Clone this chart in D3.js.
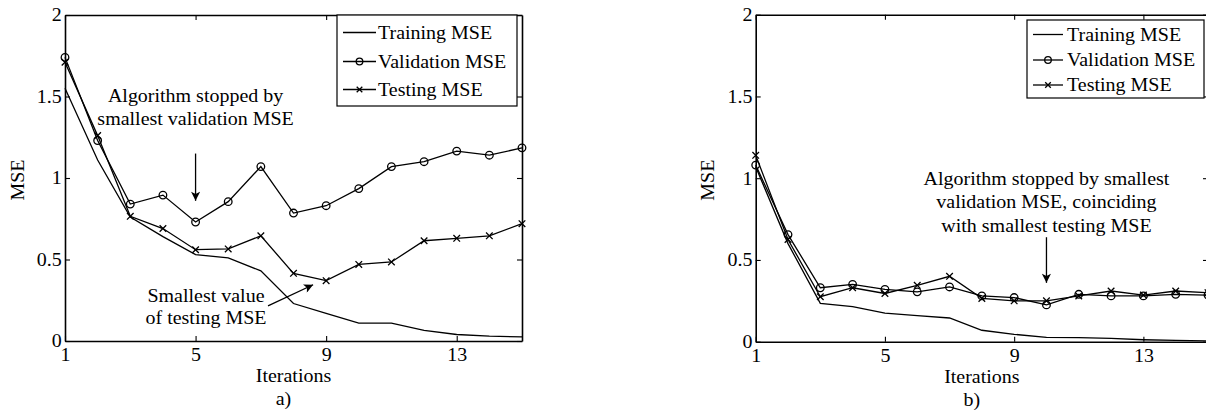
<!DOCTYPE html>
<html><head><meta charset="utf-8">
<script src="https://cdn.jsdelivr.net/npm/d3@7"></script>
<style>
body{margin:0;background:#fff;}
svg{display:block;}
text{font-family:"Liberation Serif","Times New Roman",serif;fill:#000;}
</style></head>
<body>
<svg id="c" width="1206" height="410"></svg>
<script>
// ---------- data ----------
const iterations = [1,2,3,4,5,6,7,8,9,10,11,12,13,14,15];
const xTicks = [1,5,9,13];
const yTicks = [0,0.5,1,1.5,2];
const yTickLabels = ["0","0.5","1","1.5","2"];
const seriesNames = ["Training MSE","Validation MSE","Testing MSE"];

const trainA = [1.55,1.11,0.76,0.64,0.53,0.51,0.43,0.23,0.17,0.11,0.11,0.065,0.04,0.03,0.025];
const valA   = [1.74,1.23,0.84,0.895,0.73,0.855,1.07,0.785,0.83,0.935,1.07,1.10,1.165,1.14,1.185];
const testA  = [1.71,1.26,0.765,0.69,0.56,0.565,0.645,0.415,0.37,0.47,0.485,0.615,0.63,0.645,0.72];

const trainB = [1.07,0.60,0.235,0.215,0.175,0.16,0.145,0.07,0.045,0.027,0.025,0.02,0.012,0.008,0.005];
const valB   = [1.08,0.655,0.33,0.35,0.32,0.305,0.335,0.28,0.27,0.225,0.29,0.28,0.28,0.29,0.285];
const testB  = [1.14,0.625,0.275,0.33,0.295,0.345,0.40,0.265,0.25,0.25,0.28,0.31,0.285,0.31,0.30];

const annotA1 = ["Algorithm stopped by","smallest validation MSE"];
const annotA2 = ["Smallest value","of testing MSE"];
const annotB1 = ["Algorithm stopped by smallest","validation MSE, coinciding","with smallest testing MSE"];

// ---------- drawing ----------
const svg = d3.select("#c");
const FS = 18.5, SX = 1.08, LW = 1.3;

svg.append("defs").append("marker")
  .attr("id","ah").attr("viewBox","0 0 10 10").attr("refX",10).attr("refY",5)
  .attr("markerWidth",10).attr("markerHeight",9).attr("markerUnits","userSpaceOnUse")
  .attr("orient","auto")
  .append("path").attr("d","M0,0 L10,5 L0,10 L2.5,5 Z").attr("fill","#000");

function txt(g, x, y, s, anchor, rot){
  return g.append("text")
    .attr("transform",`translate(${x},${y})` + (rot?` rotate(${rot})`:"") + ` scale(${SX},1)`)
    .attr("text-anchor",anchor||"middle")
    .attr("font-size",FS)
    .text(s);
}

function panel(cfg){
  const g = svg.append("g");
  const x = d3.scaleLinear().domain([1,15]).range([cfg.left,cfg.right]);
  const y = d3.scaleLinear().domain([0,2]).range([cfg.bottom,cfg.top]);

  const styleAxis = sel => {
    sel.select(".domain").attr("stroke","#000").attr("stroke-width",1.6);
    sel.selectAll(".tick line").attr("stroke","#000").attr("stroke-width",1.1);
    sel.selectAll("text").attr("font-family","Liberation Serif, Times New Roman, serif")
      .attr("font-size",FS).attr("fill","#000");
  };
  const gb = g.append("g").attr("transform",`translate(0,${cfg.bottom})`)
    .call(d3.axisBottom(x).tickValues(xTicks).tickFormat(d3.format("d")).tickSizeInner(-5).tickSizeOuter(0).tickPadding(7));
  styleAxis(gb);
  gb.selectAll("text").attr("transform",`scale(${SX},1)`);
  const gl = g.append("g").attr("transform",`translate(${cfg.left},0)`)
    .call(d3.axisLeft(y).tickValues(yTicks).tickFormat((d,i)=>yTickLabels[i]).tickSizeInner(-5).tickSizeOuter(0).tickPadding(3));
  styleAxis(gl);
  gl.selectAll("text").attr("transform",`scale(${SX},1)`);
  const gt = g.append("g").attr("transform",`translate(0,${cfg.top})`)
    .call(d3.axisTop(x).tickValues(xTicks).tickFormat("").tickSizeInner(-5).tickSizeOuter(0));
  styleAxis(gt);
  const gr = g.append("g").attr("transform",`translate(${cfg.right},0)`)
    .call(d3.axisRight(y).tickValues(yTicks).tickFormat("").tickSizeInner(-5).tickSizeOuter(0));
  styleAxis(gr);

  const line = d3.line().x((d,i)=>x(iterations[i])).y(d=>y(d));
  [cfg.train,cfg.val,cfg.test].forEach(s=>{
    g.append("path").datum(s).attr("d",line).attr("fill","none").attr("stroke","#000").attr("stroke-width",LW);
  });
  g.selectAll(".circ").data(cfg.val).enter().append("circle")
    .attr("cx",(d,i)=>x(iterations[i])).attr("cy",d=>y(d)).attr("r",3.8)
    .attr("fill","none").attr("stroke","#000").attr("stroke-width",LW);
  const cross = (sel, cx, cy, r) => sel.append("path")
    .attr("d",`M${cx-r},${cy-r}L${cx+r},${cy+r}M${cx-r},${cy+r}L${cx+r},${cy-r}`)
    .attr("stroke","#000").attr("stroke-width",LW).attr("fill","none");
  cfg.test.forEach((d,i)=>cross(g, x(iterations[i]), y(d), 3.3));

  txt(g, (cfg.left+cfg.right)/2, cfg.bottom+41, "Iterations");
  txt(g, (cfg.left+cfg.right)/2 - 10, cfg.bottom+64, cfg.letter);
  txt(g, cfg.ylabX, (cfg.top+cfg.bottom)/2+2, "MSE", "middle", -90);

  const L = cfg.legend;
  g.append("rect").attr("x",L.x0).attr("y",L.y0).attr("width",L.x1-L.x0).attr("height",L.y1-L.y0)
    .attr("fill","#fff").attr("stroke","#000").attr("stroke-width",1.2);
  seriesNames.forEach((n,i)=>{
    const ry = L.rows[i];
    g.append("line").attr("x1",L.lx0).attr("x2",L.lx1).attr("y1",ry).attr("y2",ry)
      .attr("stroke","#000").attr("stroke-width",LW);
    const mx = (L.lx0+L.lx1)/2;
    if(i===1) g.append("circle").attr("cx",mx).attr("cy",ry).attr("r",3.3).attr("fill","none").attr("stroke","#000").attr("stroke-width",LW);
    if(i===2) cross(g, mx, ry, 2.8);
    txt(g, L.tx, ry, n, "start").attr("dy","0.33em");
  });
  return {g,x,y};
}

const A = panel({left:65,right:522,top:15,bottom:341,train:trainA,val:valA,test:testA,letter:"a)",ylabX:24,
  legend:{x0:337,x1:517,y0:15,y1:106,rows:[32.5,61.5,89.5],lx0:343,lx1:376,tx:378}});
const B = panel({left:755.7,right:1208,top:14.7,bottom:341.7,train:trainB,val:valB,test:testB,letter:"b)",ylabX:714,
  legend:{x0:1027,x1:1204,y0:20,y1:98,rows:[34.5,60,85],lx0:1033,lx1:1063,tx:1067}});

const cxA1 = A.x(5);
annotA1.forEach((s,i)=>txt(A.g, cxA1, 101.5+i*23, s));
A.g.append("line").attr("x1",cxA1).attr("x2",cxA1).attr("y1",A.y(1.15)).attr("y2",A.y(0.86))
  .attr("stroke","#000").attr("stroke-width",1.3).attr("marker-end","url(#ah)");
annotA2.forEach((s,i)=>txt(A.g, 206, 301.5+i*22.5, s));
A.g.append("line").attr("x1",268).attr("y1",A.y(0.215)).attr("x2",A.x(8.6)).attr("y2",A.y(0.345))
  .attr("stroke","#000").attr("stroke-width",1.3).attr("marker-end","url(#ah)");

const cxB = B.x(10);
annotB1.forEach((s,i)=>txt(B.g, cxB, 185+i*23.3, s));
B.g.append("line").attr("x1",cxB).attr("x2",cxB).attr("y1",B.y(0.639)).attr("y2",B.y(0.36))
  .attr("stroke","#000").attr("stroke-width",1.3).attr("marker-end","url(#ah)");
</script>
</body></html>
